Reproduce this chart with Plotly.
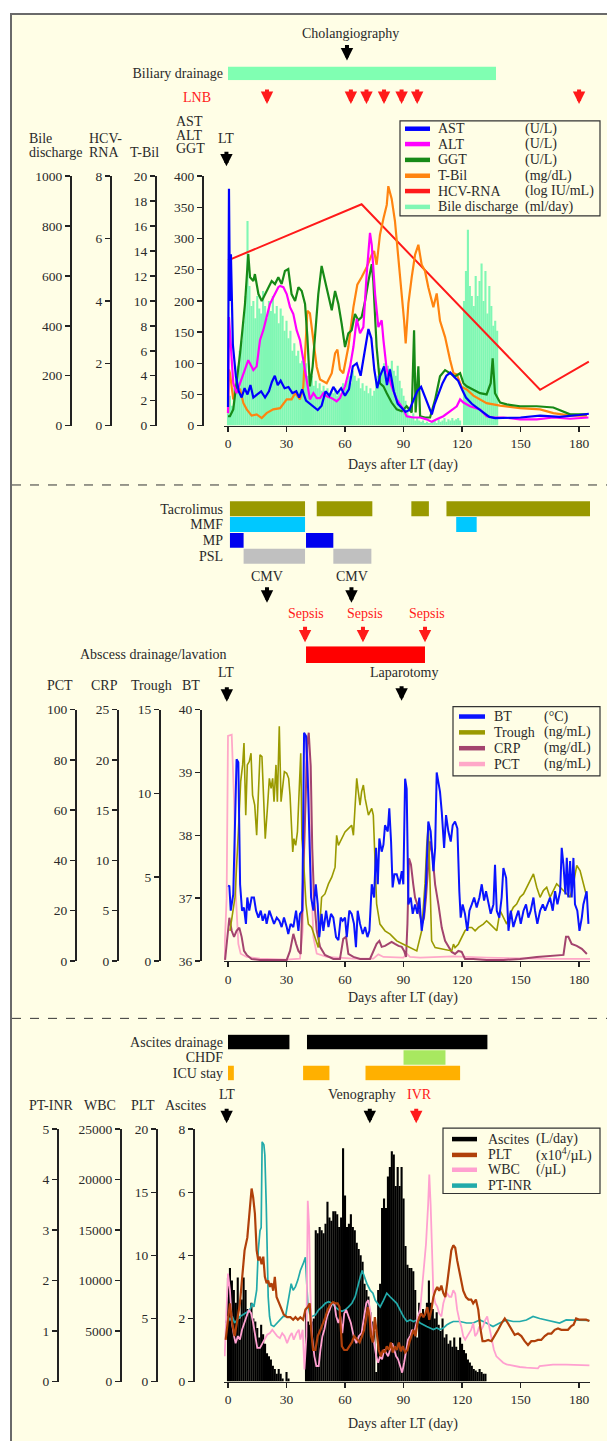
import plotly.graph_objects as go

W, H = 607, 1441
FONT = "Liberation Serif"
BG = "#FFFEE6"
AXC = "#222222"
TXT = "#2a2a2a"
RED = "#FF1A1A"

# ======================= DATA =======================
DAY_TICKS = [0, 30, 60, 90, 120, 150, 180]

# ---- Panel 1 ----
BILE_ML = [50, 120, 80, 150, 200, 240, 300, 340, 420, 520,
           820, 560, 480, 500, 430, 520, 470, 450, 540, 480,
           430, 500, 460, 520, 450, 480, 410, 470, 440, 380,
           420, 350, 380, 300, 330, 280, 300, 250, 260, 220,
           250, 200, 180, 200, 160, 180, 150, 170, 140, 160,
           130, 150, 120, 140, 130, 150, 120, 140, 130, 170,
           150, 180, 200, 170, 220, 200, 180, 190, 150, 170,
           140, 160, 130, 150, 120, 140, 180, 200, 230, 220,
           250, 210, 240, 230, 260, 220, 200, 240, 180, 150,
           120, 100, 60, 40, 30, 50, 20, 30, 20, 15,
           20, 10, 15, 10, 10, 15, 20, 10, 25, 15,
           20, 30, 15, 25, 20, 30, 20, 25, 30, 20,
           0, 500, 620, 785, 560, 520, 480, 600, 520, 580,
           650, 500, 620, 450, 560, 480, 400, 420, 380]
BILE_DAYS = list(range(len(BILE_ML)))

HCV = [(0, 5.3), (68.5, 7.1), (160, 1.15), (185, 2.05)]

AST = [(0, 30), (0.5, 380), (1, 200), (1.5, 275), (2.5, 130), (4, 80), (5.5, 55), (7, 45), (8.5, 60),
       (10, 50), (11.5, 65), (13, 45), (15, 50), (17, 55), (19, 45), (21, 55), (22.5, 70), (24, 80),
       (25.5, 65), (27, 72), (29, 60), (31, 62), (33, 52), (35, 55), (36.5, 45), (38, 58), (40, 40),
       (42, 35), (44, 30), (46, 25), (48, 32), (50, 55), (52, 48), (54, 62), (56, 52), (58, 60),
       (60, 48), (62, 58), (64, 95), (66, 100), (68, 80), (70, 120), (72, 155), (73.5, 140), (75, 90),
       (76.5, 60), (78, 80), (80, 95), (81.5, 65), (83, 90), (85, 55), (87, 35), (89, 28), (91, 22),
       (93, 25), (95, 40), (97, 55), (99, 62), (101, 45), (103, 30), (104.5, 18), (106, 35), (108, 52),
       (110, 68), (112, 80), (114, 85), (116, 78), (118, 72), (120, 58), (122, 45), (125, 35), (128, 28),
       (131, 22), (134, 14), (137, 12), (140, 12), (150, 13), (160, 16), (170, 14), (180, 17), (185, 19)]

ALT = [(0, 20), (0.5, 174), (2.7, 68), (4.4, 52), (6.2, 68), (7.9, 84), (10.4, 105), (13, 89), (14.7, 95),
       (16.4, 137), (18.1, 153), (19.8, 174), (21.5, 195), (23.2, 206), (25.8, 222), (26.7, 224),
       (28.4, 222), (30.1, 211), (31.8, 190), (33.5, 179), (35.2, 153), (36.9, 137), (38.6, 105),
       (40.3, 74), (42, 42), (43.8, 52), (45.5, 44), (47.2, 44), (48.9, 52), (50.6, 47), (53.2, 44),
       (55.7, 39), (57.4, 44), (60, 63), (62.6, 95), (64.3, 126), (66, 171), (67.7, 148), (69.4, 158),
       (71.1, 243), (72.8, 309), (73.7, 290), (75.4, 211), (77.1, 158), (78.8, 169), (79.7, 137),
       (81.4, 89), (83.9, 63), (86.5, 42), (89.9, 26), (91.6, 15), (95, 13), (98.5, 13), (101.9, 10),
       (104.4, 6), (107, 10), (110.4, 15), (113.8, 23), (117.3, 31), (119, 42), (120.7, 37), (124.1, 31),
       (129.2, 26), (132.6, 15), (136.1, 13), (141.2, 13), (149.7, 10), (158.3, 10), (166.8, 13),
       (175.4, 11), (184.8, 13)]

GGT = [(0, 15), (1, 15), (2.7, 26), (6.2, 116), (8.7, 195), (10.4, 275), (11.3, 238), (13, 232),
       (13.8, 243), (15.6, 211), (17.3, 200), (19, 211), (20.7, 222), (22.4, 232), (24.1, 227),
       (25.8, 238), (27.5, 227), (29.2, 248), (30.9, 251), (32.6, 211), (34.4, 200), (36.1, 222),
       (37.8, 216), (39.5, 195), (40.7, 142), (42, 63), (43.4, 95), (44.6, 142), (46.3, 211), (48, 256),
       (49.7, 232), (51.5, 206), (53.2, 185), (54.9, 216), (56.6, 195), (58.3, 163), (60, 126),
       (61.7, 148), (63.4, 153), (65.1, 179), (66.8, 169), (68.5, 174), (70.3, 200), (72, 232),
       (73.7, 259), (74.5, 232), (76.2, 126), (77.9, 68), (79.7, 63), (81.4, 52), (83.9, 37), (86.5, 26),
       (89.1, 23), (91.6, 31), (94.2, 21), (95.4, 153), (96.2, 21), (97.6, 95), (98.5, 15), (101, 13),
       (103.6, 13), (106.2, 42), (108.7, 79), (111.3, 89), (113.8, 84), (116.4, 79), (119, 84),
       (120.7, 68), (122.4, 63), (125.8, 58), (129.2, 52), (132.6, 50), (134.7, 68), (135.7, 108),
       (136.9, 52), (139.5, 37), (142.9, 34), (149.7, 31), (158.3, 31), (166.8, 29), (175.4, 18), (184, 18)]

TBIL = [(0, 1.0), (0.5, 4.5), (1, 4.2), (2.7, 2.1), (4.4, 3.1), (6.2, 2.9), (7.9, 1.8), (9.6, 1.3),
        (12.1, 0.8), (14.7, 0.9), (17.3, 0.6), (19.8, 1.0), (23.2, 1.3), (26.7, 1.4), (30.1, 2.1),
        (32.6, 2.1), (34.4, 2.6), (36.9, 2.1), (38.6, 3.1), (40.7, 9.2), (42, 9.0), (43.8, 6.9),
        (45.5, 4.7), (47.2, 3.7), (50.6, 3.4), (53.2, 4.2), (54.9, 5.8), (56.1, 6.1), (57.4, 4.5),
        (59.1, 4.2), (61.7, 6.3), (64.3, 9.5), (66.3, 11.3), (68.5, 11.9), (71.1, 12.7), (73.7, 13.7),
        (74.9, 14.0), (76.2, 12.9), (77.9, 15.3), (79.7, 16.6), (81.4, 17.7), (82.2, 19.2), (83.9, 18.2),
        (85.6, 16.4), (87.4, 13.5), (89.1, 10.8), (90.3, 8.4), (91.1, 6.6), (92.5, 9.8), (94.2, 11.9),
        (95.9, 13.7), (97.6, 14.5), (99.3, 12.9), (101, 12.4), (102.7, 11.1), (105.3, 9.5), (107, 10.6),
        (108.7, 8.4), (111.3, 7.1), (113.8, 5.3), (115.6, 4.2), (117.3, 4.1), (119.8, 3.1), (122.4, 2.9),
        (125.8, 2.4), (132.6, 1.8), (139.5, 1.6), (149.7, 1.4), (160, 1.3), (166.8, 1.0), (175.4, 0.8),
        (184, 0.8)]

BILIARY_DRAINAGE = [(0, 137.4)]
CHOLANGIOGRAPHY_DAY = [61]
LNB_DAYS = [20, 63, 71, 80, 89, 97, 180]

# ---- Panel 2 ----
BT = [(0, 37.2), (0.7, 37.19), (1.4, 36.8), (2.7, 37.06), (4.4, 39.21), (5.3, 39.16), (6.2, 37.22),
      (7.2, 36.8), (8.2, 36.85), (9.2, 36.59), (9.9, 37.01), (10.9, 36.8), (12.1, 37.01), (13.3, 37.01),
      (14.4, 36.8), (15.6, 36.69), (16.8, 36.8), (17.8, 36.64), (19, 36.75), (19.8, 36.59), (21.2, 36.8),
      (22.4, 36.69), (23.6, 36.59), (25, 36.69), (26.3, 36.64), (27.5, 36.54), (28.7, 36.69),
      (30.1, 36.54), (30.9, 36.43), (32.1, 36.59), (33.5, 36.54), (34.9, 36.8), (36.1, 36.48),
      (36.9, 36.75), (38.1, 36.8), (39, 39.63), (40, 39.58), (40.9, 38.9), (41.7, 37.95), (42.6, 37.01),
      (43.8, 36.8), (45, 37.22), (46, 36.9), (46.8, 36.38), (48, 36.75), (48.9, 36.48), (50.3, 36.8),
      (51.5, 36.54), (52.8, 36.75), (54, 36.69), (55.4, 36.38), (56.6, 36.33), (57.8, 36.69),
      (58.8, 36.64), (60, 36.69), (60.9, 36.38), (62.2, 36.8), (63.4, 36.75), (64.6, 36.59),
      (65.6, 36.22), (66.5, 36.8), (67.7, 36.59), (69.1, 36.43), (70.3, 36.54), (71.5, 36.38),
      (72.5, 36.48), (73.7, 37.22), (74.9, 37.01), (75.9, 37.8), (76.8, 37.22), (77.6, 37.95),
      (78.8, 37.74), (79.7, 37.85), (80.5, 38.16), (81.9, 38.06), (82.7, 38.43), (83.6, 37.9),
      (84.4, 37.17), (85.3, 37.38), (86.5, 37.38), (87.9, 37.22), (89.1, 37.43), (89.9, 37.22),
      (90.8, 38.9), (91.6, 38.74), (92.5, 36.9), (93.7, 37.01), (94.7, 36.75), (95.9, 36.9),
      (97.1, 36.75), (98.1, 37.01), (99.3, 36.48), (100.5, 36.75), (101.5, 37.22), (102.7, 38.22),
      (103.9, 38.06), (105.3, 37.43), (106.2, 37.8), (107, 39.0), (107.9, 38.79), (108.7, 38.69),
      (109.6, 38.37), (110.8, 37.8), (111.8, 38.32), (113, 38.06), (114.2, 37.9), (115.2, 38.16),
      (116.4, 38.22), (117.6, 38.11), (118.6, 37.11), (119.3, 36.69), (120.3, 36.9), (121.5, 36.75),
      (122.7, 36.48), (123.8, 36.8), (125, 36.9), (126.2, 37.01), (127.5, 36.85), (128.9, 37.01),
      (130.1, 37.22), (131.3, 36.96), (132.3, 37.11), (133.5, 36.9), (134.7, 36.75), (136.1, 36.9),
      (136.9, 37.53), (137.8, 36.8), (139.1, 36.69), (140.3, 37.01), (141.2, 37.48), (142.6, 37.32),
      (143.8, 36.48), (145, 36.8), (146.3, 36.54), (147.7, 36.69), (148.9, 36.8), (150.1, 36.59),
      (151.5, 36.8), (152.8, 36.9), (154, 36.69), (155.2, 36.8), (156.6, 37.01), (157.4, 36.8),
      (158.6, 36.59), (160, 36.8), (161.4, 36.9), (162.6, 36.8), (163.8, 36.9), (165.1, 37.01),
      (166.5, 36.8), (167.7, 37.11), (168.9, 36.9), (170.3, 37.11), (171.1, 37.8), (172, 37.53),
      (173, 37.06), (173.7, 37.64), (174.5, 37.01), (175.4, 37.59), (176.2, 37.01), (177.1, 37.64),
      (177.9, 36.9), (179.1, 36.8), (180.2, 36.48), (181.4, 36.69), (182.2, 36.9), (183.1, 37.01),
      (183.9, 37.11), (184.8, 36.59)]

TROUGH = [(1, 1.8), (3.6, 3.8), (5.3, 7.7), (6.5, 10.7), (7.5, 11.7), (8.2, 13.0), (9.1, 8.7), (9.9, 11.7),
          (10.9, 11.9), (11.8, 12.4), (12.6, 9.9), (13.7, 9.3), (14.7, 7.5), (15.6, 10.5), (16.4, 12.3),
          (17.4, 12.2), (18.5, 9.1), (19.1, 7.3), (20.2, 9.1), (21.2, 10.9), (22.1, 10.3), (22.9, 10.9),
          (23.6, 9.5), (24.6, 11.7), (25.3, 9.5), (26.3, 14.0), (27.2, 9.5), (28, 10.3), (28.9, 11.3),
          (30.1, 11.2), (31.1, 10.9), (31.8, 9.9), (32.5, 8.1), (33.2, 6.5), (33.8, 7.3), (34.7, 6.9),
          (35.6, 7.7), (36.4, 9.7), (37.3, 12.4), (37.9, 7.3), (38.6, 6.3), (40, 3.4), (41.2, 2.2),
          (42.9, 2.0), (44.6, 1.4), (46.3, 0.8), (48, 3.8), (49.7, 4.0), (51.5, 4.6), (53.2, 5.0),
          (54.9, 5.6), (55.7, 7.5), (56.6, 6.9), (58.3, 7.3), (60, 7.7), (61.7, 7.9), (63.4, 8.1),
          (64.3, 7.5), (65.1, 9.1), (66, 10.9), (66.8, 10.1), (67.7, 9.3), (68.5, 10.1), (69.4, 10.5),
          (70.3, 9.7), (71.1, 9.1), (72, 8.7), (72.8, 8.9), (73.7, 9.1), (74.5, 8.7), (75.4, 6.1),
          (76.2, 3.4), (77.9, 2.2), (80.5, 1.8), (83.1, 1.6), (86.5, 1.2), (89.9, 1.0), (93.3, 0.8),
          (96.8, 0.6), (99.3, 1.8), (101, 4.6), (101.9, 6.9), (102.7, 8.1), (103.6, 4.6), (104.4, 1.2),
          (106.2, 0.8), (110.4, 0.7), (114.7, 0.6), (115.6, 1.0), (116.4, 0.8), (118.1, 1.0), (119.8, 1.4),
          (121.5, 1.8), (123.2, 2.0), (125, 2.0), (126.7, 1.8), (128.4, 2.0), (130.9, 2.2), (132.6, 2.4),
          (134.4, 2.2), (136.1, 2.0), (137.8, 1.8), (139.5, 3.0), (141.2, 2.6), (142.9, 2.2), (144.6, 2.8),
          (146.3, 3.2), (148, 3.4), (149.7, 3.8), (151.5, 4.0), (153.2, 4.4), (154.9, 4.8), (156.6, 5.2),
          (158.3, 4.4), (160, 3.8), (161.7, 4.2), (163.4, 4.4), (165.1, 3.8), (166.8, 4.2), (168.5, 4.6),
          (170.3, 4.4), (172, 4.2), (173.7, 4.0), (175.4, 3.8), (177.1, 4.6), (178.8, 5.7), (180.5, 5.4),
          (182.2, 4.6), (184, 3.8)]

CRP = [(-1.5, 0.1), (0, 3.0), (0.7, 4.3), (1.9, 3.0), (3.1, 2.4), (4.4, 3.0), (5.8, 3.3), (7, 2.4),
       (8.2, 1.0), (9.6, 0.6), (12.1, 0.2), (16.4, 0.1), (21.5, 0.1), (30.1, 0.1), (31.8, 1.0), (33.5, 2.7),
       (34.9, 1.7), (36.1, 1.0), (37.3, 0.7), (38.3, 6.3), (39.5, 12.9), (40.7, 21.7), (41.4, 22.7),
       (42.4, 19.4), (43.2, 11.2), (44.1, 6.3), (45.5, 3.0), (47.2, 1.4), (49.7, 0.6), (54, 0.2),
       (57.4, 0.2), (59.1, 2.2), (60.5, 2.4), (61.7, 0.7), (64.3, 0.4), (67.7, 0.2), (72.8, 0.2),
       (74.5, 1.0), (76.2, 1.7), (77.6, 2.0), (78.8, 1.4), (80.5, 1.5), (82.2, 1.7), (83.9, 1.9),
       (85.6, 1.7), (87.4, 1.5), (89.1, 1.4), (90.3, 1.0), (91.3, 0.4), (92, 3.7), (92.8, 10.2),
       (93.8, 9.6), (95, 7.6), (95.9, 6.3), (97.1, 5.6), (98.5, 4.3), (99.5, 3.7), (100.5, 4.3),
       (101.5, 6.3), (102.7, 9.6), (103.6, 11.9), (104.8, 10.6), (106.2, 7.6), (107.9, 5.6), (109.6, 3.3),
       (111.3, 2.0), (113, 1.4), (114.7, 0.9), (116.4, 0.7), (118.1, 1.0), (119.8, 0.9), (121.5, 0.2),
       (125.8, 0.2), (132.6, 0.1), (141.2, 0.1), (149.7, 0.2), (158.3, 0.4), (166.8, 0.5), (172, 0.6),
       (173.3, 2.4), (174.5, 2.4), (176.2, 1.7), (178.8, 1.5), (181.4, 1.2), (184, 0.7)]

PCT = [(-2, 0.3), (-0.7, 25), (0, 89.5), (1.9, 90), (3.1, 64.6), (4.1, 25), (5.3, 6.8), (6.5, 2.9),
       (9.6, 1.6), (16.4, 0.9), (30.1, 0.5), (36.9, 0.9), (38.3, 12), (39.5, 64.6), (40.3, 89.5),
       (41.2, 77.7), (42.4, 38), (43.8, 9.4), (45.5, 2.9), (50.6, 1.6), (64.3, 0.9), (74.5, 0.9),
       (77.1, 2.6), (79.7, 1.6), (89.9, 1.3), (91.6, 2.9), (93.3, 1.6), (98.5, 1.3), (115.6, 1.8),
       (132.6, 1.3), (149.7, 0.9), (166.8, 0.8), (185.6, 0.8)]

DRUG_ROWS = ["Tacrolimus", "MMF", "MP", "PSL"]
TACROLIMUS = [(1, 39.5), (45.5, 74), (94, 103), (112, 187)]
MMF = [(1, 39.5), (117, 127.5)]
MP = [(1, 8), (40, 54)]
PSL = [(8, 39.5), (54, 73.5)]
CMV_DAYS = [20, 63.3]
SEPSIS_DAYS = [39.5, 69.2, 101]
ABSCESS_DRAINAGE = [(40, 101)]
LAPAROTOMY_DAY = [89]

# ---- Panel 3 ----
ASCITES_L = [3.3, 3.6, 3.2, 2.9, 2.5, 3.3, 2.0, 2.6, 3.3, 2.9,
             2.3, 2.2, 2.5, 2.0, 1.9, 1.7, 1.4, 1.8, 1.5, 1.2,
             0.9, 0.8, 0.7, 0.5, 0.4, 0.25, 0.4, 0.25, 0.1, 0,
             0.3, 0.1, 0, 0, 0, 0, 0, 0, 0, 0,
             2.2, 1.9, 1.8, 1.9, 2.0, 4.8, 4.7, 4.9, 4.8, 4.7,
             5.0, 5.7, 5.2, 5.1, 5.4, 5.4, 5.3, 4.9, 5.2, 7.4,
             5.9, 4.9, 5.0, 5.3, 4.9, 4.8, 4.4, 4.2, 4.0, 3.8,
             3.1, 2.9, 2.7, 2.2, 1.9, 1.6, 0.3, 2.9, 3.1, 5.5,
             5.8, 5.5, 6.5, 6.8, 7.3, 7.2, 6.2, 6.8, 6.2, 6.8,
             5.8, 4.3, 3.7, 3.6, 3.6, 3.5, 2.9, 1.4, 2.5, 2.1,
             2.3, 2.1, 2.5, 3.2, 2.5, 2.3, 2.0, 2.2, 1.8, 1.6,
             2.0, 1.4, 1.5, 1.2, 1.3, 1.1, 1.4, 1.1, 1.0, 1.4,
             1.2, 1.0, 0.9, 0.7, 0.6, 0.5, 0.4, 0.35, 0.3, 0.4,
             0.3, 0.25, 0.25]
ASCITES_DAYS = list(range(len(ASCITES_L)))

PLT = [(-1.2, 3.3), (0, 5.1), (1, 6.2), (2.2, 4.6), (3.4, 3.6), (4.8, 4.9), (6.1, 6.2), (7.3, 8.3),
       (8.5, 10.4), (9.9, 11.4), (11.1, 13.3), (12.1, 15.3), (12.9, 14.6), (13.8, 13.3), (14.7, 10.4),
       (15.5, 9.6), (16.4, 9.9), (17.2, 9.3), (18.1, 9.9), (18.9, 8.3), (19.8, 7.8), (20.6, 8.0),
       (21.5, 7.5), (22.3, 7.8), (23.2, 7.2), (24, 8.3), (24.9, 6.7), (26.1, 6.2), (27.3, 5.7),
       (28.6, 5.3), (30.3, 5.1), (32, 5.1), (33.4, 4.9), (34.6, 5.1), (35.8, 4.9), (37.1, 5.1),
       (38.5, 4.9), (39.7, 5.7), (40.9, 5.9), (41.9, 6.2), (42.6, 4.1), (43.6, 2.5), (44.8, 2.5),
       (46, 3.6), (47.4, 4.1), (48.7, 4.6), (49.9, 5.1), (51.1, 5.7), (52.5, 6.1), (53.8, 6.3),
       (55, 6.2), (56.2, 6.2), (57.2, 5.9), (58.4, 2.8), (59.6, 2.5), (61, 2.5), (62.4, 2.8), (63.5, 3.1),
       (64.7, 3.6), (66.1, 3.3), (67.5, 3.1), (68.7, 3.6), (69.8, 4.1), (70.9, 5.1), (71.7, 5.9),
       (72.6, 5.1), (73.3, 3.6), (74.3, 3.1), (75.3, 5.1), (76.3, 3.8), (77.3, 2.5), (78.4, 2.0),
       (79.4, 2.5), (80.4, 2.3), (81.4, 2.8), (82.5, 2.5), (83.5, 3.1), (84.5, 2.3), (85.5, 2.8),
       (86.5, 2.5), (87.6, 3.1), (88.6, 2.4), (89.6, 2.8), (90.8, 2.3), (92, 2.5), (93, 3.1), (94, 3.6),
       (95.1, 4.1), (96.1, 3.6), (97.1, 4.6), (98.1, 5.1), (99.1, 5.4), (100.2, 5.1), (101.2, 5.4),
       (102.2, 5.9), (103.2, 4.9), (104.3, 5.7), (105.3, 6.7), (106.3, 7.2), (107.3, 7.5), (108.3, 7.2),
       (109.4, 7.6), (110.4, 7.0), (111.4, 6.7), (112.4, 7.8), (113.5, 9.3), (114.5, 10.4), (115.5, 10.8),
       (116.5, 10.6), (117.5, 9.6), (118.6, 8.8), (119.6, 8.0), (120.6, 7.2), (122, 6.7), (123.3, 6.5),
       (124.7, 6.5), (125.7, 6.2), (127.1, 6.5), (128.3, 5.7), (129.5, 4.1), (130.5, 3.2), (131.7, 3.2),
       (133.4, 3.3), (135.1, 3.2), (136.8, 3.6), (138.5, 4.1), (140.2, 4.6), (141.9, 5.0), (143.6, 4.6),
       (145.3, 4.1), (147, 3.7), (148.7, 3.8), (150.4, 3.6), (152.1, 3.2), (153.8, 2.9), (155.5, 3.2),
       (157.2, 3.2), (158.9, 3.3), (160.6, 3.3), (162.4, 3.6), (164.1, 3.8), (165.8, 3.8), (167.5, 4.1),
       (169.2, 4.2), (170.9, 4.1), (172.6, 4.1), (174.3, 4.1), (176, 4.4), (177.2, 4.5), (178.5, 5.0),
       (180.2, 4.9), (181.9, 4.9), (183.6, 4.9), (185.3, 4.8)]

WBC = [(-1.7, 2500), (-0.7, 7750), (0, 10700), (1, 9050), (2, 5800), (3.1, 4500), (3.9, 3800), (5.1, 4500),
       (6.1, 4150), (7.2, 5130), (8.2, 5800), (9.5, 6450), (10.7, 7100), (11.9, 6750), (12.9, 5800),
       (14, 4500), (15, 3330), (16.4, 3330), (17.5, 3800), (18.7, 4150), (20.1, 4640), (21.5, 4800),
       (22.7, 5130), (23.9, 4800), (25.2, 4500), (26.6, 4300), (27.8, 4800), (29, 4500), (30.3, 3800),
       (31.7, 4500), (32.7, 4800), (33.7, 4150), (35.1, 4800), (36.3, 5130), (37.1, 4150), (38.3, 5130),
       (39.2, 1200), (40.2, 4500), (40.9, 17900), (41.6, 15300), (42.2, 9050), (43.1, 4500), (44.3, 2500),
       (45.3, 1540), (46.5, 1540), (47.4, 3170), (48.4, 4500), (49.4, 5130), (50.8, 6450), (52.1, 7100),
       (53.3, 7750), (54.5, 7750), (55.5, 6450), (56.6, 5800), (57.6, 6450), (58.6, 4800), (59.6, 6750),
       (60.6, 7100), (61.8, 6450), (63, 5800), (64.4, 4500), (65.8, 3800), (67.1, 4500), (68.5, 4800),
       (69.8, 6450), (70.9, 7750), (71.9, 8070), (72.9, 7100), (73.9, 5130), (75, 3800), (76, 2500),
       (77, 1860), (78, 2500), (79, 2200), (80.1, 3170), (81.1, 2840), (82.1, 2500), (83.1, 3170),
       (84.2, 3800), (85.2, 3170), (86.2, 2500), (87.2, 2200), (88.2, 1540), (89.3, 880), (90.3, 1860),
       (91.3, 3170), (92.3, 4150), (93.4, 4500), (94.4, 5130), (95.4, 4800), (96.4, 5800), (97.4, 6450),
       (98.5, 7100), (99.5, 9050), (100.5, 11000), (101.5, 13600), (102.6, 17500), (103.2, 20500),
       (103.9, 17500), (104.6, 12650), (105.3, 8730), (106.3, 7750), (107.3, 7420), (108.3, 6750),
       (109.4, 6450), (110.4, 7750), (111.4, 8400), (112.4, 8730), (113.5, 8400), (114.5, 8400),
       (115.5, 9050), (116.5, 8730), (117.5, 7100), (118.6, 6100), (119.6, 5460), (120.6, 4500),
       (121.6, 4150), (122.7, 4500), (123.7, 4800), (124.7, 5130), (125.7, 5800), (126.7, 4500),
       (127.8, 4800), (128.8, 5460), (129.8, 5130), (130.8, 5460), (131.9, 6100), (132.9, 6450),
       (133.9, 5460), (135.1, 4150), (136.3, 3170), (137.6, 2500), (139.4, 2200), (141.1, 1860),
       (142.8, 1700), (146.2, 1540), (149.6, 1440), (153, 1370), (156.4, 1310), (158.9, 1310),
       (159.8, 1540), (163.2, 1600), (166.6, 1670), (173.4, 1670), (180.2, 1600), (185.3, 1600)]

PTINR = [(-1.2, 1.16), (0, 1.29), (1, 1.22), (2.2, 1.29), (3.4, 1.16), (4.8, 1.22), (6.1, 1.29),
         (7.5, 1.32), (8.9, 1.35), (10.2, 1.39), (11.6, 1.45), (12.4, 1.55), (13.3, 1.48), (14.7, 1.81),
         (15.5, 2.59), (16.4, 2.99), (17, 3.05), (17.5, 4.75), (18.4, 4.69), (18.9, 4.49), (19.6, 3.51),
         (20.1, 2.20), (20.6, 1.68), (21.3, 1.29), (22.1, 1.12), (23.5, 1.09), (25.2, 1.16), (26.9, 1.22),
         (28.3, 1.29), (29.5, 1.29), (30.3, 1.48), (31.2, 1.61), (32.4, 1.94), (33.4, 1.81), (34.6, 1.88),
         (35.8, 2.01), (37.1, 2.20), (38.5, 2.33), (39.7, 2.46), (40.2, 2.07), (40.9, 1.55), (41.9, 1.35),
         (43.1, 1.29), (44.8, 1.32), (46.5, 1.42), (48.2, 1.48), (49.9, 1.55), (51.6, 1.58), (53.3, 1.55),
         (55, 1.48), (56.7, 1.42), (58.4, 1.39), (60.1, 1.42), (61.8, 1.48), (63.5, 1.55), (65.2, 1.68),
         (66.4, 1.88), (67.8, 2.07), (68.8, 2.20), (69.8, 2.07), (71.2, 1.94), (72.9, 1.81), (74.3, 1.75),
         (75.5, 1.61), (76.7, 1.55), (78, 1.48), (79.7, 1.61), (81.4, 1.75), (83.1, 1.68), (84.8, 1.61),
         (86.5, 1.55), (88.2, 1.42), (89.9, 1.29), (91.7, 1.19), (93.4, 1.22), (95.1, 1.19), (96.8, 1.22),
         (98.5, 1.16), (100.2, 1.12), (101.9, 1.09), (103.6, 1.06), (105.3, 1.03), (107, 1.06),
         (108.7, 1.03), (110.4, 1.06), (112.1, 1.12), (113.8, 1.16), (115.5, 1.19), (118.9, 1.19),
         (122.3, 1.16), (125.7, 1.16), (129.1, 1.22), (132.5, 1.16), (135.9, 1.09), (139.3, 1.16),
         (142.8, 1.22), (146.2, 1.19), (149.6, 1.19), (153, 1.22), (156.4, 1.29), (159.8, 1.25),
         (163.2, 1.22), (166.6, 1.19), (170, 1.16), (173.4, 1.22), (176.8, 1.22), (180.2, 1.21),
         (185.3, 1.21)]

PROC_ROWS = ["Ascites drainage", "CHDF", "ICU stay"]
ASCITES_DRAINAGE = [(0, 31.5), (40.5, 133)]
CHDF = [(90, 111.5)]
ICU_STAY = [(0, 3), (38.5, 52), (70.5, 119)]
VENOGRAPHY_DAY = [72.7]
IVR_DAY = [96.5]

# Legend texts
LEG1_NAMES = ["AST", "ALT", "GGT", "T-Bil", "HCV-RNA", "Bile discharge"]
LEG1_UNITS = ["(U/L)", "(U/L)", "(U/L)", "(mg/dL)", "(log IU/mL)", "(ml/day)"]
LEG2_NAMES = ["BT", "Trough", "CRP", "PCT"]
LEG2_UNITS = ["(°C)", "(ng/mL)", "(mg/dL)", "(ng/mL)"]
LEG3_NAMES = ["Ascites", "PLT", "WBC", "PT-INR"]
LEG3_UNITS = ["(L/day)", "(x10<sup>4</sup>/µL)", "(/µL)", ""]

# Colours
C_AST, C_ALT, C_GGT, C_TBIL, C_HCV, C_BILE = "#0000FF", "#FF00FF", "#178A17", "#FF8410", "#FF1A1A", "#80F7B4"
C_BT, C_TROUGH, C_CRP, C_PCT = "#0A14FF", "#9A9A00", "#A3446E", "#FFA8C8"
C_ASC, C_PLT, C_WBC, C_INR = "#000000", "#B0400A", "#FFA0D0", "#22AAAA"

# ======================= HELPERS =======================
def X(p):
    return p / W


def Y(p):
    return 1 - p / H


def xs(pairs):
    return [a for a, _ in pairs]


def ys(pairs):
    return [b for _, b in pairs]


TICKFONT = dict(family=FONT, size=13.5, color=TXT)
TXT_SIZE = 14


def yaxis(rng, dtick, pos_px, dom=None, overlay=None):
    d = dict(range=rng, tick0=rng[0], dtick=dtick, anchor="free", position=X(pos_px), side="left",
             showline=True, linecolor=AXC, linewidth=1.5, ticks="outside", ticklen=5, tickwidth=1.5,
             tickcolor=AXC, showgrid=False, zeroline=False, tickfont=TICKFONT, fixedrange=True,
             tickformat="d")
    if dom is not None:
        d["domain"] = dom
    if overlay is not None:
        d["overlaying"] = overlay
    return d


def xaxis(anchor):
    return dict(domain=[X(224), X(590)], range=[-2.05, 185.6], anchor=anchor, tickvals=DAY_TICKS,
                showline=True, linecolor=AXC, linewidth=1.5, ticks="outside", ticklen=5, tickwidth=1.5,
                tickcolor=AXC, showgrid=False, zeroline=False, tickfont=TICKFONT, fixedrange=True)


def gantt_axis(cats, top_px, bot_px, anchor, labels=True):
    d = dict(domain=[Y(bot_px), Y(top_px)], anchor=anchor, type="category", categoryorder="array",
             categoryarray=cats, range=[len(cats) - 0.5, -0.5], showline=False, ticks="",
             showgrid=False, zeroline=False, showticklabels=labels,
             tickfont=dict(family=FONT, size=TXT_SIZE, color=TXT), fixedrange=True)
    if labels:
        d.update(tickmode="array", tickvals=cats, ticktext=cats)
    return d


fig = go.Figure()


def line(pairs, color, width, xa, ya):
    fig.add_trace(go.Scatter(x=xs(pairs), y=ys(pairs), mode="lines", line=dict(color=color, width=width),
                             xaxis=xa, yaxis=ya, showlegend=False, hoverinfo="skip"))


def gantt(row, segs, color, xa, ya, width=0.94):
    fig.add_trace(go.Bar(orientation="h", y=[row] * len(segs), x=[e - s for s, e in segs],
                         base=[s for s, _ in segs], width=width, marker=dict(color=color, line=dict(width=0)),
                         xaxis=xa, yaxis=ya, showlegend=False, hoverinfo="skip", cliponaxis=False))


# ======================= TRACES =======================
# Panel 1
fig.add_trace(go.Bar(x=BILE_DAYS, y=BILE_ML, width=1.08, marker=dict(color=C_BILE, line=dict(width=0)),
                     xaxis="x", yaxis="y", showlegend=False, hoverinfo="skip"))
line(HCV, C_HCV, 2, "x", "y2")
line(TBIL, C_TBIL, 2.2, "x", "y3")
line(GGT, C_GGT, 2.2, "x", "y4")
line(ALT, C_ALT, 2.2, "x", "y4")
line(AST, C_AST, 2.2, "x", "y4")
gantt("Biliary drainage", BILIARY_DRAINAGE, "#80FFB2", "x", "y13", width=1.0)

# Panel 2
line(PCT, C_PCT, 1.8, "x2", "y5")
line(CRP, C_CRP, 2, "x2", "y6")
line(TROUGH, C_TROUGH, 1.6, "x2", "y7")
line(BT, C_BT, 2, "x2", "y8")
gantt("Tacrolimus", TACROLIMUS, "#999900", "x2", "y14")
gantt("MMF", MMF, "#00C8FF", "x2", "y14")
gantt("MP", MP, "#0000EE", "x2", "y14")
gantt("PSL", PSL, "#C0C0C0", "x2", "y14")
gantt("Abscess drainage/lavation", ABSCESS_DRAINAGE, "#FF0000", "x2", "y15", width=1.0)

# Panel 3
fig.add_trace(go.Bar(x=ASCITES_DAYS, y=ASCITES_L, width=1.08, marker=dict(color=C_ASC, line=dict(width=0)),
                     xaxis="x3", yaxis="y9", showlegend=False, hoverinfo="skip"))
line(PTINR, C_INR, 1.7, "x3", "y10")
line(WBC, C_WBC, 1.8, "x3", "y11")
line(PLT, C_PLT, 2.2, "x3", "y12")
gantt("Ascites drainage", ASCITES_DRAINAGE, "#000000", "x3", "y16")
gantt("CHDF", CHDF, "#A8E860", "x3", "y16")
gantt("ICU stay", ICU_STAY, "#FFB000", "x3", "y16")

# ======================= LAYOUT =======================
P1 = [Y(423), Y(171)]
P2 = [Y(964), Y(710)]
P3 = [Y(1389), Y(1134)]

layout = dict(
    width=W, height=H, autosize=False, margin=dict(l=0, r=0, t=0, b=0),
    paper_bgcolor="white", plot_bgcolor="rgba(0,0,0,0)", barmode="overlay", showlegend=False,
    font=dict(family=FONT, size=13.5, color=TXT),
    xaxis=xaxis("y"), xaxis2=xaxis("y5"), xaxis3=xaxis("y9"),
    yaxis=yaxis([0, 1000], 200, 70, dom=P1),
    yaxis2=yaxis([0, 8], 2, 110, overlay="y"),
    yaxis3=yaxis([0, 20], 2, 155, overlay="y"),
    yaxis4=yaxis([0, 400], 50, 202, overlay="y"),
    yaxis5=yaxis([0, 100], 20, 75, dom=P2),
    yaxis6=yaxis([0, 25], 5, 117, overlay="y5"),
    yaxis7=yaxis([0, 15], 5, 159, overlay="y5"),
    yaxis8=yaxis([36, 40], 1, 200, overlay="y5"),
    yaxis9=yaxis([0, 8], 2, 193, dom=P3),
    yaxis10=yaxis([0, 5], 1, 57, overlay="y9"),
    yaxis11=yaxis([0, 25000], 5000, 120, overlay="y9"),
    yaxis12=yaxis([0, 20], 5, 156, overlay="y9"),
    yaxis13=gantt_axis(["Biliary drainage"], 60, 74, "x"),
    yaxis14=gantt_axis(DRUG_ROWS, 499, 563, "x2"),
    yaxis15=gantt_axis(["Abscess drainage/lavation"], 646, 663, "x2", labels=False),
    yaxis16=gantt_axis(PROC_ROWS, 1038, 1085, "x3"),
)

shapes = []
ann = []

# frame & separators
shapes.append(dict(type="rect", xref="paper", yref="paper", x0=X(11), x1=X(650), y0=Y(7), y1=Y(1470),
                   fillcolor=BG, line=dict(color="#6a6a6a", width=2), layer="below"))
for sep in (483, 1022):
    shapes.append(dict(type="line", xref="paper", yref="paper", x0=X(12), x1=X(607), y0=Y(sep), y1=Y(sep),
                       line=dict(color="#333333", width=1, dash="dash")))


def text(s, x, y, color=TXT, anchor="center", size=TXT_SIZE):
    ann.append(dict(text=s, x=X(x), y=Y(y), xref="paper", yref="paper", showarrow=False, xanchor=anchor,
                    yanchor="middle", font=dict(family=FONT, size=size, color=color)))


def arrow(day, xa, tip, tail, color="#000000"):
    ann.append(dict(text="", x=day, y=Y(tip), xref=xa, yref="paper", showarrow=True, ax=0, ay=-(tip - tail),
                    arrowhead=2, arrowsize=0.62, arrowwidth=4, arrowcolor=color, standoff=0))


def legend(names, units, colors, box, rows, sw, lx, ux):
    x0, y0, x1, y1 = box
    shapes.append(dict(type="rect", xref="paper", yref="paper", x0=X(x0), x1=X(x1), y0=Y(y0), y1=Y(y1),
                       fillcolor=BG, line=dict(color="#333333", width=1.2), layer="above"))
    for n, u, c, r in zip(names, units, colors, rows):
        shapes.append(dict(type="line", xref="paper", yref="paper", x0=X(sw[0]), x1=X(sw[1]), y0=Y(r), y1=Y(r),
                           line=dict(color=c, width=4.5), layer="above"))
        text(n, lx, r, anchor="left")
        if u:
            text(u, ux, r, anchor="left")


# ---- Panel 1 annotations ----
text("Cholangiography", 350, 27)
for d in CHOLANGIOGRAPHY_DAY:
    arrow(d, "x", 54, 37)
text("LNB", 197, 91, color=RED)
for d in LNB_DAYS:
    arrow(d, "x", 98, 82, RED)
text("Bile", 27, 133, anchor="left")
text("discharge", 27, 147, anchor="left")
text("HCV-", 87, 133, anchor="left")
text("RNA", 87, 147, anchor="left")
text("T-Bil", 144.5, 147)
text("AST", 174, 116, anchor="left")
text("ALT", 174, 130, anchor="left")
text("GGT", 174, 143, anchor="left")
text("LT", 226, 133)
arrow(-0.8, "x", 161, 145)
text("Days after LT (day)", 403, 463)
legend(LEG1_NAMES, LEG1_UNITS, [C_AST, C_ALT, C_GGT, C_TBIL, C_HCV, C_BILE], (400, 115, 600, 211),
       [123, 138.5, 154.5, 170.5, 186, 202], (405, 430), 436, 523)

# ---- Panel 2 annotations ----
for d, xc in zip(CMV_DAYS, (267, 351.5)):
    text("CMV", xc, 575)
    arrow(d, "x2", 602, 585)
for d, xc in zip(SEPSIS_DAYS, (306, 365, 427)):
    text("Sepsis", xc, 613, color=RED)
    arrow(d, "x2", 642, 625, RED)
text("Abscess drainage/lavation", 153, 654)
text("LT", 226, 673)
arrow(-0.6, "x2", 702, 686)
text("Laparotomy", 404, 673)
for d in LAPAROTOMY_DAY:
    arrow(d, "x2", 701, 685)
text("PCT", 60, 686)
text("CRP", 104.5, 686)
text("Trough", 151, 686)
text("BT", 190.5, 686)
text("Days after LT (day)", 403, 1001)
legend(LEG2_NAMES, LEG2_UNITS, [C_BT, C_TROUGH, C_CRP, C_PCT], (453, 707, 600, 777),
       [717, 733, 749, 765], (459, 485), 492, 542)

# ---- Panel 3 annotations ----
text("LT", 226.5, 1099)
arrow(-0.7, "x3", 1128, 1112)
text("Venography", 362, 1099)
for d in VENOGRAPHY_DAY:
    arrow(d, "x3", 1128, 1112)
text("IVR", 419, 1099, color=RED)
for d in IVR_DAY:
    arrow(d, "x3", 1128, 1112, RED)
text("PT-INR", 51, 1110)
text("WBC", 100, 1110)
text("PLT", 143, 1110)
text("Ascites", 185, 1110)
text("Days after LT (day)", 403, 1432)
legend(LEG3_NAMES, LEG3_UNITS, [C_ASC, C_PLT, C_WBC, C_INR], (443, 1133, 600, 1199),
       [1144, 1160, 1175, 1191], (452, 477), 486, 534)

layout["shapes"] = shapes
layout["annotations"] = ann
fig.update_layout(**layout)

fig.write_html("out.html", config={"displayModeBar": False, "staticPlot": True},
               post_script="document.body.style.margin='0';document.body.style.overflow='hidden';")
